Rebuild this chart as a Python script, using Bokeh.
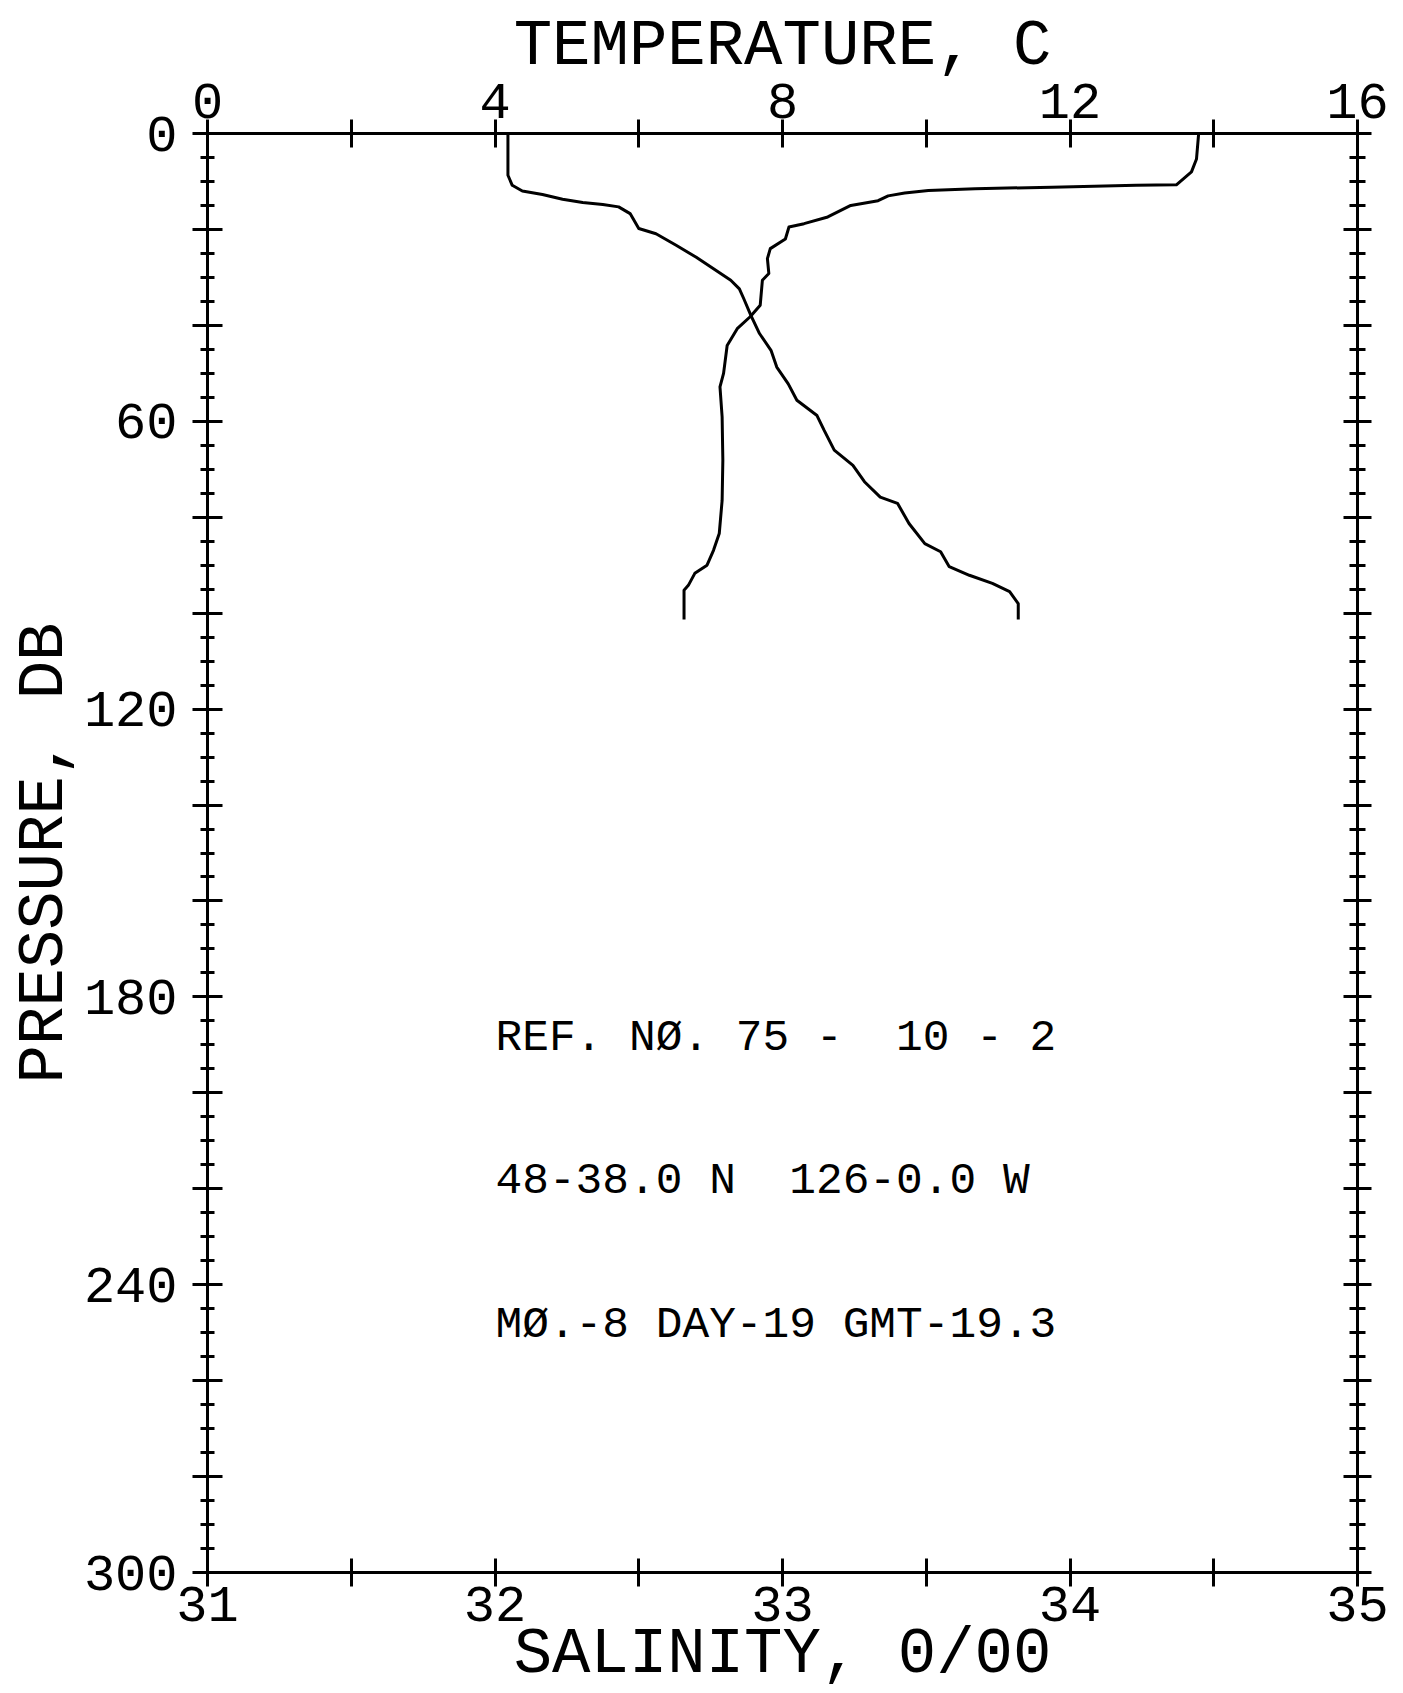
from bokeh.plotting import figure
from bokeh.models import Range1d, LinearAxis, FixedTicker, Label
from bokeh.embed import file_html
from bokeh.resources import INLINE

# ---------------- data ----------------
sal_pressure = [0, 8.7, 10.8, 12.0, 12.7, 13.7, 14.4, 14.8, 15.3, 16.7, 19.8, 20.9, 23.3,
                25.8, 28.2, 30.6, 32.4, 34.4, 37.9, 41.7, 45.2, 48.7, 52.2, 55.6, 58.8,
                61.9, 66.0, 69.2, 72.6, 75.8, 77.1, 81.3, 85.5, 87.2, 90.3, 92.1, 93.8,
                95.5, 98.0, 101.3]
salinity = [32.045, 32.045, 32.06, 32.095, 32.165, 32.235, 32.305, 32.375, 32.43, 32.47,
            32.50, 32.56, 32.63, 32.70, 32.76, 32.82, 32.85, 32.865, 32.89, 32.92, 32.96,
            32.98, 33.02, 33.05, 33.12, 33.145, 33.18, 33.245, 33.285, 33.34, 33.40, 33.44,
            33.495, 33.55, 33.58, 33.65, 33.73, 33.79, 33.82, 33.82]

temp_pressure = [0, 5.3, 8.0, 10.7, 10.8, 11.2, 11.5, 11.9, 12.4, 13.0, 14.0, 15.0, 17.4,
                 18.8, 19.5, 22.0, 24.0, 26.1, 29.2, 30.6, 35.8, 38.2, 40.7, 44.2, 50.0,
                 52.8, 59.1, 68.1, 76.5, 83.4, 86.9, 90.0, 91.7, 94.2, 95.2, 101.3]
temperature = [13.79, 13.76, 13.69, 13.48, 12.92, 11.75, 10.68, 10.03, 9.70, 9.47, 9.33,
               8.95, 8.63, 8.30, 8.09, 8.04, 7.83, 7.79, 7.81, 7.72, 7.69, 7.55, 7.37,
               7.23, 7.18, 7.13, 7.16, 7.17, 7.16, 7.12, 7.04, 6.95, 6.78, 6.69, 6.63, 6.63]

temp_ticks = [0, 4, 8, 12, 16]
temp_minor = [2, 6, 10, 14]
sal_ticks = [31, 32, 33, 34, 35]
sal_minor = [31.5, 32.5, 33.5, 34.5]
pres_major = list(range(0, 301, 20))
pres_minor = list(range(0, 301, 5))
pres_label_step = 60

NB = "\u00a0"  # keeps the doubled spaces of the original plotter text
info_lines = ["REF. N\u00d8. 75 -" + NB + " 10 - 2",
              "48-38.0 N" + NB + " 126-0.0 W",
              "M\u00d8.-8 DAY-19 GMT-19.3"]

# ---------------- layout ----------------
W, H = 1403, 1693
FL, FT, FW, FH = 207, 133, 1150, 1440
FONT = "Liberation Mono"

def sal_at(px):
    return 31 + (px - FL) * 4 / FW

def pres_at(py):
    return (py - FT) * 300 / FH

p = figure(width=W, height=H, x_range=Range1d(31, 35), y_range=Range1d(300, 0),
           output_backend="svg", toolbar_location=None,
           x_axis_location=None, y_axis_location=None,
           min_border_left=FL, min_border_top=FT,
           min_border_right=W - FL - FW, min_border_bottom=H - FT - FH)
p.extra_x_ranges = {"temp": Range1d(0, 16)}
p.outline_line_color = None
p.xgrid.visible = False
p.ygrid.visible = False
p.background_fill_color = "white"
p.border_fill_color = "white"

def style(ax, tin, tout, mtin, mtout, fs="52px"):
    ax.axis_line_width = 3
    ax.axis_line_color = "black"
    ax.major_tick_line_width = 3
    ax.minor_tick_line_width = 3
    ax.major_tick_in = tin
    ax.major_tick_out = tout
    ax.minor_tick_in = mtin
    ax.minor_tick_out = mtout
    ax.major_label_text_font = FONT
    ax.major_label_text_font_size = fs
    ax.major_label_text_color = "black"
    ax.axis_label_text_font = FONT
    ax.axis_label_text_font_size = "64px"
    ax.axis_label_text_font_style = "normal"
    ax.axis_label_text_color = "black"

bottom = LinearAxis(ticker=FixedTicker(ticks=sal_ticks, minor_ticks=sal_minor),
                    axis_label="SALINITY, 0/00")
style(bottom, 14, 14, 14, 14)
bottom.major_label_standoff = 0
bottom.axis_label_standoff = -5
p.add_layout(bottom, "below")

top = LinearAxis(x_range_name="temp", ticker=FixedTicker(ticks=temp_ticks, minor_ticks=temp_minor),
                 axis_label="TEMPERATURE, C")
style(top, 14, 14, 14, 14)
top.major_label_standoff = 2
top.axis_label_standoff = -2
p.add_layout(top, "above")

left = LinearAxis(ticker=FixedTicker(ticks=pres_major, minor_ticks=pres_minor),
                  major_label_overrides={t: "" for t in pres_major if t % pres_label_step},
                  axis_label="PRESSURE, DB")
style(left, 15, 15, 7, 7)
left.major_label_standoff = 15
left.axis_label_standoff = 0
p.add_layout(left, "left")

right = LinearAxis(ticker=FixedTicker(ticks=pres_major, minor_ticks=pres_minor),
                   major_label_overrides={t: "" for t in pres_major})
style(right, 14, 14, 8, 8)
p.add_layout(right, "right")

# curves
p.line(salinity, sal_pressure, line_width=3, line_color="black", line_join="round")
p.line(temperature, temp_pressure, x_range_name="temp", line_width=3, line_color="black",
       line_join="round")

# station info
info_x = sal_at(495)
for i, line in enumerate(info_lines):
    p.add_layout(Label(x=info_x, y=pres_at(1038 + i * 143.5), text=line, text_font=FONT,
                       text_font_size="44.5px", text_color="black",
                       text_baseline="alphabetic", text_align="left"))

open("out.html", "w").write(file_html(p, INLINE))
